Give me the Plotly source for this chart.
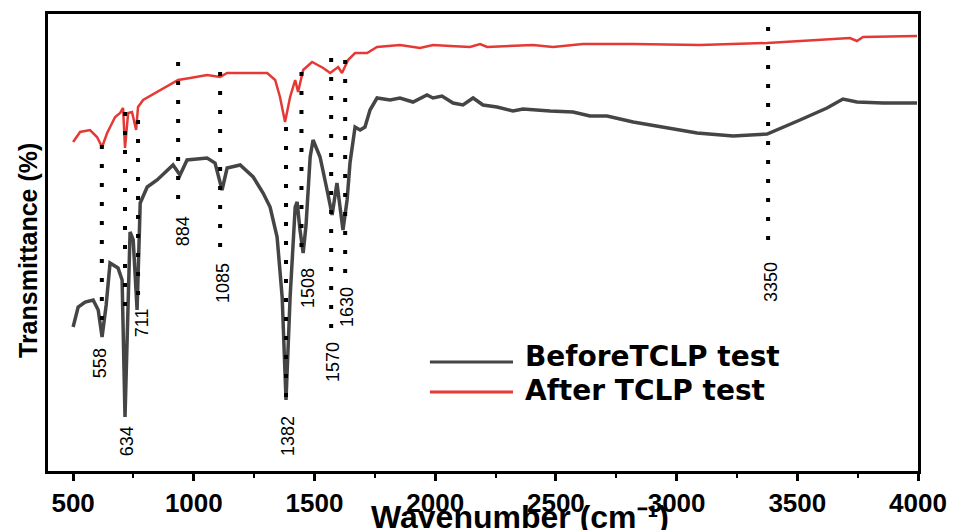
import plotly.graph_objects as go

# ---- Data (transmittance in arbitrary units) ----
before_wn = [500, 521, 550, 583, 604, 620, 637, 653, 686, 703, 715, 728, 736, 749, 765,
             778, 807, 848, 889, 914, 943, 972, 1055, 1088, 1117, 1138, 1192, 1246, 1287,
             1316, 1345, 1366, 1382, 1399, 1420, 1428, 1440, 1453, 1465, 1482, 1494, 1523,
             1552, 1573, 1593, 1618, 1635, 1647, 1668, 1689, 1709, 1730, 1759, 1813, 1854,
             1908, 1966, 1991, 2028, 2074, 2115, 2157, 2198, 2256, 2322, 2364, 2476, 2571,
             2641, 2712, 2820, 2890, 2960, 3085, 3234, 3375, 3511, 3623, 3689, 3747, 3855, 3996]
before_T = [144, 164, 169, 171, 161, 134, 166, 208, 203, 191, 54, 171, 239, 231, 161,
            268, 284, 291, 301, 306, 296, 311, 313, 308, 281, 303, 306, 294, 278,
            264, 234, 174, 71, 174, 264, 269, 241, 218, 246, 314, 331, 314,
            281, 256, 288, 241, 271, 308, 344, 341, 344, 361, 373, 371, 373,
            369, 376, 373, 375, 368, 366, 373, 366, 364, 360, 362, 360, 359,
            355, 355, 349, 346, 343, 338, 335, 337, 351, 363, 372, 369, 368, 368]

after_wn = [500, 529, 570, 599, 620, 641, 674, 695, 707, 715, 728, 744, 761, 769, 790,
            827, 860, 902, 935, 985, 1055, 1109, 1138, 1304, 1337, 1357, 1378, 1399, 1420,
            1432, 1453, 1490, 1536, 1565, 1598, 1614, 1639, 1668, 1718, 1759, 1854, 1937,
            1991, 2062, 2144, 2186, 2215, 2405, 2488, 2612, 2820, 3097, 3375, 3582, 3718,
            3747, 3772, 3996]
after_T = [329, 339, 341, 334, 324, 338, 354, 358, 363, 323, 358, 359, 341, 364, 371,
           376, 381, 386, 391, 393, 396, 394, 398, 398, 391, 374, 349, 374, 391,
           379, 401, 409, 403, 398, 404, 398, 411, 418, 418, 424, 426, 423,
           426, 425, 424, 427, 424, 426, 424, 427, 427, 426, 428, 431, 433,
           430, 434, 435]

peak_labels = ["558", "634", "711", "884", "1085", "1382", "1508", "1570", "1630", "3350"]
peak_line_wn = [619, 715, 769, 935, 1109, 1382, 1446, 1569, 1627, 3379]
peak_line_top = [326, 359, 351, 409, 399, 344, 399, 413, 411, 444]
peak_line_bottom = [138, 161, 164, 259, 211, 61, 211, 134, 186, 218]
peak_label_wn = [612, 724, 786, 956, 1121, 1390, 1473, 1577, 1635, 3391]
peak_label_T = [108, 30, 148, 240, 188, 35, 183, 109, 164, 189]

series_names = ["BeforeTCLP test", "After TCLP test"]
series_colors = ["#454545", "#e53935"]

x_tick_vals = [500, 1000, 1500, 2000, 2500, 3000, 3500, 4000]

# ---- Figure ----
fig = go.Figure()
fig.add_trace(go.Scatter(x=before_wn, y=before_T, mode="lines", name=series_names[0],
                         line=dict(color=series_colors[0], width=3.5), showlegend=False))
fig.add_trace(go.Scatter(x=after_wn, y=after_T, mode="lines", name=series_names[1],
                         line=dict(color=series_colors[1], width=2.5), showlegend=False))

for wn, top, bot in zip(peak_line_wn, peak_line_top, peak_line_bottom):
    fig.add_shape(type="line", xref="x", yref="y", x0=wn, x1=wn, y0=top, y1=bot,
                  line=dict(color="black", width=4, dash="4px,15px"), layer="above")

for lab, wn, t in zip(peak_labels, peak_label_wn, peak_label_T):
    fig.add_annotation(x=wn, y=t, xref="x", yref="y", text=lab, showarrow=False,
                       textangle=-90, xanchor="center", yanchor="middle",
                       font=dict(family="Liberation Sans, Arial", size=18, color="black"))

# manual legend
legend_y = [0.2385, 0.1729]
legend_text_y = [0.2495, 0.1772]
for name, col, ly, ty in zip(series_names, series_colors, legend_y, legend_text_y):
    fig.add_shape(type="line", xref="paper", yref="paper", x0=0.439, x1=0.5345, y0=ly, y1=ly,
                  line=dict(color=col, width=3))
    fig.add_annotation(x=0.546, y=ty, xref="paper", yref="paper", text=name, showarrow=False,
                       xanchor="left", yanchor="middle",
                       font=dict(family="DejaVu Sans, Liberation Sans, Arial", size=28,
                                 color="black", weight="bold"))

# axis titles
fig.add_annotation(x=(520 - 48) / 870, y=(471 - 537) / 457, xref="paper", yref="paper",
                   text="Wavenumber (cm\u207b\u00b9)", showarrow=False,
                   xanchor="center", yanchor="bottom",
                   font=dict(family="Liberation Sans, Arial", size=32, color="black", weight="bold"))
fig.add_annotation(x=(28 - 48) / 870, y=(471 - 251) / 457, xref="paper", yref="paper",
                   text="Transmittance (%)", showarrow=False, textangle=-90,
                   xanchor="center", yanchor="middle",
                   font=dict(family="Liberation Sans, Arial", size=25, color="black", weight="bold"))

fig.update_layout(
    width=959, height=530,
    margin=dict(l=48, r=41, t=14, b=59),
    paper_bgcolor="white", plot_bgcolor="white",
    xaxis=dict(range=[396, 4000], showline=True, linecolor="black", linewidth=3, mirror=True,
               ticks="outside", ticklen=7, tickwidth=3, tickcolor="black",
               tickvals=x_tick_vals, ticktext=[str(v) for v in x_tick_vals],
               showgrid=False, zeroline=False,
               tickfont=dict(family="Liberation Sans, Arial", size=26, color="black", weight="bold"),
               minor=dict(ticks="outside", ticklen=4, tickwidth=2, tickcolor="black",
                          tick0=250, dtick=250, showgrid=False)),
    yaxis=dict(range=[0, 457], showline=True, linecolor="black", linewidth=3, mirror=True,
               ticks="", showticklabels=False, showgrid=False, zeroline=False),
)

fig.write_html("out.html")
